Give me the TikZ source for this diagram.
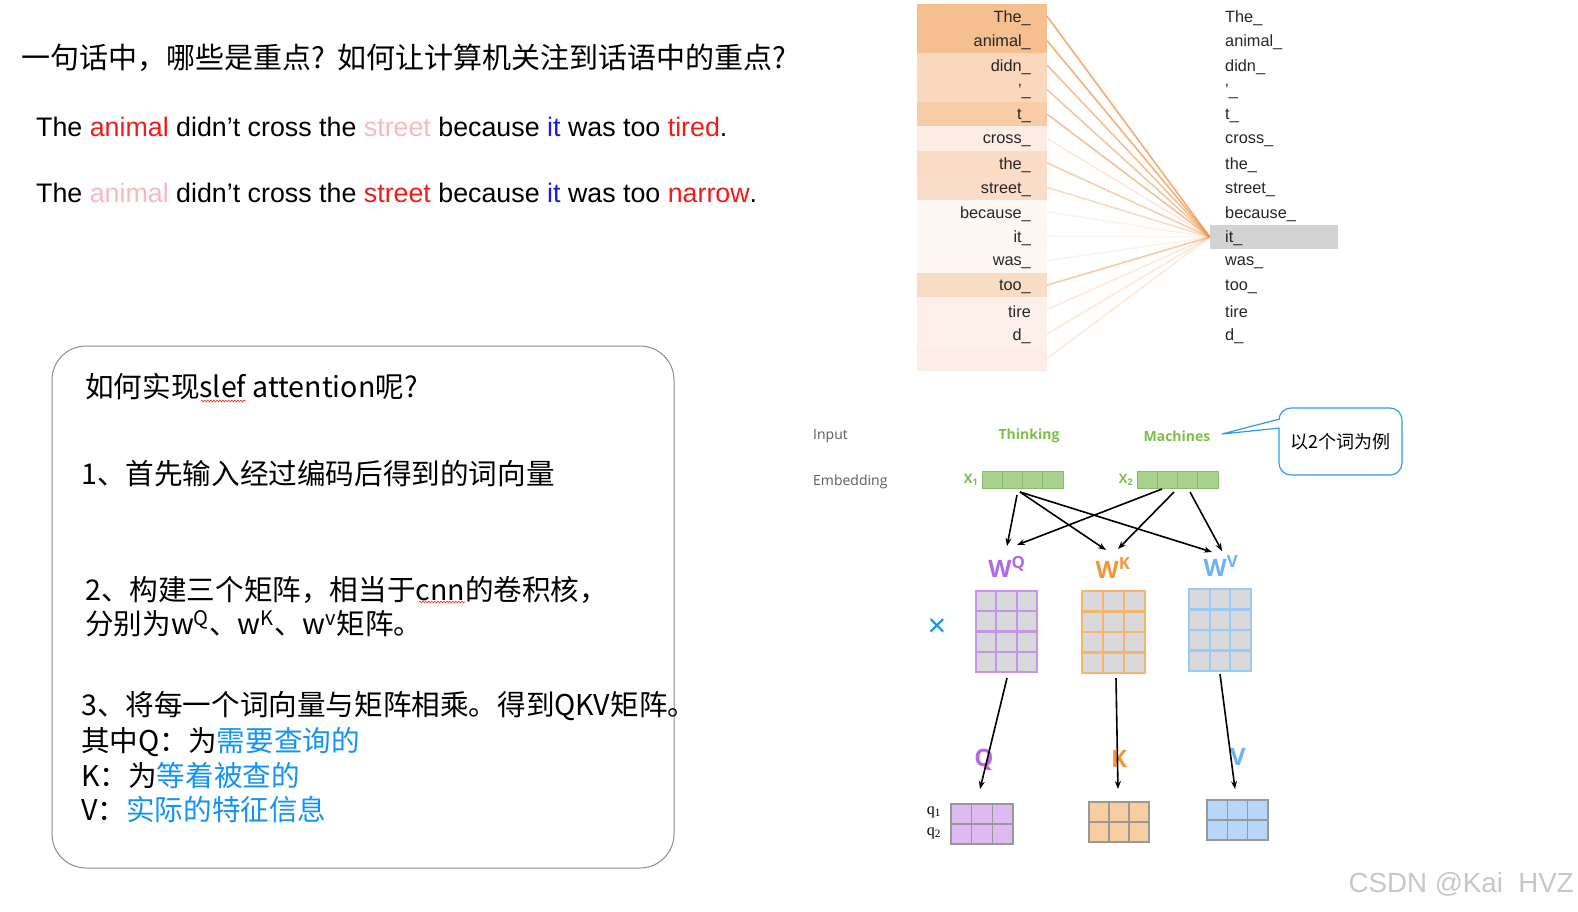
\documentclass[tikz,border=0pt]{standalone}
\usepackage{fontspec}
\setmainfont{Liberation Sans}
\newfontfamily\cjk{Noto Sans CJK SC}
\newfontfamily\osans{Open Sans}
\newfontfamily\serifq{Liberation Serif}
\usetikzlibrary{arrows.meta,decorations.pathmorphing}
\definecolor{redw}{HTML}{F01B1B}
\definecolor{pinkw}{HTML}{F7B9C0}
\definecolor{bluew}{HTML}{1A1AE0}
\definecolor{skyb}{HTML}{1493F5}
\definecolor{attn}{HTML}{F09850}
\definecolor{wgreen}{HTML}{7DBF4A}
\definecolor{cellg}{HTML}{A9D18E}
\definecolor{cellgb}{HTML}{8DB870}
\definecolor{purp}{HTML}{B26AE2}
\definecolor{orng}{HTML}{F2963A}
\definecolor{lblue}{HTML}{6DB2F4}
\definecolor{purpb}{HTML}{C595EA}
\definecolor{orngb}{HTML}{F5B56C}
\definecolor{lblueb}{HTML}{9CCAF6}
\definecolor{gcell}{HTML}{D9D9DB}
\definecolor{qfill}{HTML}{DDBBF0}
\definecolor{kfill}{HTML}{F6CE9F}
\definecolor{vfill}{HTML}{B8D6F7}
\definecolor{hlgray}{HTML}{D3D3D3}
\definecolor{labgray}{HTML}{5E5E5E}
\definecolor{callb}{HTML}{2E9BF0}

\newcommand\drawmat[9]{% name, x0, y0, x1, y1, cols, rows, fill, border
  \node[draw=#9, fill=#8, matframe, minimum width=#4-#2, minimum height=#5-#3] (#1) at ({(#2+#4)/2},{(#3+#5)/2}) {};
  \pgfmathtruncatemacro\ncm{#6-1}
  \pgfmathtruncatemacro\nrm{#7-1}
  \foreach \k in {1,...,\ncm} {\draw[draw=#9, matframe] ({#2+(#4-#2)*\k/#6},#3) -- ({#2+(#4-#2)*\k/#6},#5);}
  \foreach \k in {1,...,\nrm} {\draw[draw=#9, matframe] (#2,{#3+(#5-#3)*\k/#7}) -- (#4,{#3+(#5-#3)*\k/#7});}
}

\begin{document}
\begin{tikzpicture}[x=1pt,y=-1pt,
  cjktitle/.style={font=\cjk\fontsize{29}{34}\selectfont, anchor=west, inner sep=0pt},
  sent/.style={font=\fontsize{26.8}{31}\selectfont, anchor=west, inner sep=0pt},
  attword/.style={font=\fontsize{16.3}{19}\selectfont, text=black!85, inner sep=0pt},
  rowcell/.style={minimum width=130, minimum height=24.6, inner sep=0pt, outer sep=0pt},
  attline/.style={draw=attn, line width=1.6pt},
  boxtxt/.style={font=\cjk\fontsize{28.6}{33}\selectfont, anchor=west, inner sep=0pt},
  inlab/.style={font=\osans\fontsize{14}{17}\selectfont, text=labgray, anchor=west, inner sep=0pt},
  gword/.style={font=\osans\bfseries\fontsize{14}{17}\selectfont, text=wgreen, inner sep=0pt},
  embbox/.style={draw=cellgb, fill=cellg, line width=1pt, minimum width=81, minimum height=17, inner sep=0pt},
  embline/.style={draw=cellgb, line width=1pt},
  matframe/.style={line width=2.2pt, inner sep=0pt, outer sep=0pt},
  wlab/.style={font=\osans\bfseries\fontsize{24}{28}\selectfont, inner sep=0pt},
  arr/.style={-{Stealth[length=8pt,width=6pt]}, line width=1.6pt, black},
  wavy/.style={draw=red!85, line width=0.6pt, decorate, decoration={snake, amplitude=0.9pt, segment length=3pt}}
]
\useasboundingbox (0,0) rectangle (1578,911);
\fill[white] (0,0) rectangle (1578,911);

% ---------- title and sentences ----------
\node[cjktitle] (title) at (21,57.5) {一句话中，哪些是重点?\hspace{0.42em}如何让计算机关注到话语中的重点?};
\node[sent] (s1) at (36,127) {The \textcolor{redw}{animal} didn’t cross the \textcolor{pinkw}{street} because \textcolor{bluew}{it} was too \textcolor{redw}{tired}.};
\node[sent] (s2) at (36,193) {The \textcolor{pinkw}{animal} didn’t cross the \textcolor{redw}{street} because \textcolor{bluew}{it} was too \textcolor{redw}{narrow}.};

% ---------- attention panel ----------
\node[fill=hlgray, minimum width=128, minimum height=24, inner sep=0pt] (hl) at (1274,237) {};
\foreach \i/\wrd/\cc/\op in {0/The\_/F5BF90/0.8, 1/animal\_/F5BF90/0.75, 2/didn\_/F9D8BE/0.6, 3/'\_/F9D8BE/0.55, 4/t\_/F7CCA6/0.6, 5/cross\_/FCEDE4/0.2, 6/the\_/FADBC4/0.45, 7/street\_/FADDC9/0.35, 8/because\_/FEF8F5/0.12, 9/it\_/FEF6F2/0.1, 10/was\_/FEF8F5/0.12, 11/too\_/F9DCC4/0.5, 12/tire/FDF0EA/0.2, 13/d\_/FDF0EA/0.2, 14/{}/FCEEE6/0.2} {
  \pgfmathsetmacro\yy{16.2+24.45*\i}
  \definecolor{rowc}{HTML}{\cc}
  \node[rowcell, fill=rowc] (L\i) at (982,\yy) {};
  \node[attword, anchor=east] (LW\i) at (1031,\yy+2) {\wrd};
  \draw[attline, draw opacity=\op] (L\i.east) -- (hl.west);
}
\foreach \i/\wrd in {0/The\_, 1/animal\_, 2/didn\_, 3/'\_, 4/t\_, 5/cross\_, 6/the\_, 7/street\_, 8/because\_, 9/it\_, 10/was\_, 11/too\_, 12/tire, 13/d\_} {
  \pgfmathsetmacro\yy{16.2+24.45*\i}
  \node[attword, anchor=west] (RW\i) at (1225,\yy+2) {\wrd};
}

% ---------- rounded box ----------
\node[draw=black!45, line width=1pt, rounded corners=34pt, minimum width=622, minimum height=522, inner sep=0pt] (box) at (363,607) {};
\node[boxtxt] (b0) at (85,387) {如何实现slef attention呢?};
\node[boxtxt] (b1) at (81,474) {1、首先输入经过编码后得到的词向量};
\node[boxtxt] (b2) at (85,590) {2、构建三个矩阵，相当于cnn的卷积核，};
\node[boxtxt] (b3) at (85,624) {分别为w\textsuperscript{Q}、w\textsuperscript{K}、w\textsuperscript{v}矩阵。};
\node[boxtxt] (b4) at (81,706) {3、将每一个词向量与矩阵相乘。得到QKV矩阵。};
\node[boxtxt] (b5) at (81,742) {其中Q：为\textcolor{skyb}{需要查询的}};
\node[boxtxt] (b6) at (81,776) {K：为\textcolor{skyb}{等着被查的}};
\node[boxtxt] (b7) at (81,810) {V：\textcolor{skyb}{实际的特征信息}};
\coordinate (u1a) at (201,401); \coordinate (u1b) at (246,401);
\coordinate (u2a) at (419,602); \coordinate (u2b) at (465,602);
\draw[wavy] (u1a) -- (u1b);
\draw[wavy] (u2a) -- (u2b);

% ---------- input / embedding ----------
\node[inlab] (inp) at (813,436) {Input};
\node[inlab] (emb) at (813,482) {Embedding};
\node[gword] (think) at (1029,436) {Thinking};
\node[gword] (mach) at (1177,436) {Machines};
\node[gword, font=\osans\bfseries\fontsize{13}{15}\selectfont] (x1l) at (971,480) {X\textsubscript{1}};
\node[gword, font=\osans\bfseries\fontsize{13}{15}\selectfont] (x2l) at (1126,480) {X\textsubscript{2}};
\node[embbox] (x1) at (1022.5,479.5) {};
\node[embbox] (x2) at (1177.5,479.5) {};
\foreach \k in {1,2,3} {
  \draw[embline] ({982+20.25*\k},471) -- ({982+20.25*\k},488);
  \draw[embline] ({1137+20.25*\k},471) -- ({1137+20.25*\k},488);
}

% ---------- callout ----------
\node[draw=callb, line width=1.2pt, fill=white, rounded corners=12pt, minimum width=123, minimum height=67, inner sep=0pt, font=\cjk\fontsize{18}{21}\selectfont] (call) at (1340.5,441.5) {以2个词为例};
\coordinate (ptip) at (1222,434);
\coordinate (cp1) at (1279.6,419);
\coordinate (cp2) at (1279.6,428);
\fill[white] ([xshift=1.2pt]cp1) -- (ptip) -- ([xshift=1.2pt]cp2) -- cycle;
\draw[draw=callb, line width=1.2pt] (cp1) -- (ptip) -- (cp2);

% ---------- weight matrices ----------
\node[wlab, text=purp] (wql) at (1007,567) {W\textsuperscript{Q}};
\node[wlab, text=orng] (wkl) at (1113,568) {W\textsuperscript{K}};
\node[wlab, text=lblue] (wvl) at (1221,566) {W\textsuperscript{V}};
\node[text=skyb, font=\fontsize{32}{34}\selectfont, inner sep=0pt] (times) at (937,628) {×};
\drawmat{wq}{976}{591}{1037}{672}{3}{4}{gcell}{purpb}
\drawmat{wk}{1082}{591}{1145}{673}{3}{4}{gcell}{orngb}
\drawmat{wv}{1189}{589}{1251}{671}{3}{4}{gcell}{lblueb}

% arrows from embeddings to weight matrices
\coordinate (s11) at (1017,495); \coordinate (s12) at (1020,492);
\coordinate (s21) at (1162,489); \coordinate (s22) at (1174,492); \coordinate (s23) at (1190,492);
\coordinate (eq1) at (1007,546); \coordinate (eq2) at (1017,545);
\coordinate (ek1) at (1106,550); \coordinate (ek2) at (1118,549);
\coordinate (ev1) at (1212,552); \coordinate (ev2) at (1222,551);
\draw[arr] (s11) -- (eq1);
\draw[arr] (s12) -- (ek1);
\draw[arr] (s12) -- (ev1);
\draw[arr] (s21) -- (eq2);
\draw[arr] (s22) -- (ek2);
\draw[arr] (s23) -- (ev2);

% ---------- outputs ----------
\node[wlab, text=purp] (ql) at (984,760) {Q};
\node[wlab, text=orng] (kl) at (1119,759) {K};
\node[wlab, text=lblue] (vl) at (1238,757) {V};
\coordinate (oq) at (1007,678); \coordinate (ok) at (1116,678); \coordinate (ov) at (1220,674);
\coordinate (tq) at (980,789); \coordinate (tk) at (1118,789); \coordinate (tv) at (1235,789);
\draw[arr] (oq) -- (tq);
\draw[arr] (ok) -- (tk);
\draw[arr] (ov) -- (tv);
\begin{scope}[matframe/.style={line width=1.4pt, inner sep=0pt, outer sep=0pt}]
\drawmat{qm}{951}{804}{1013}{844}{3}{2}{qfill}{black!40}
\drawmat{km}{1089}{802}{1149}{842}{3}{2}{kfill}{black!40}
\drawmat{vm}{1207}{800}{1268}{840}{3}{2}{vfill}{black!40}
\end{scope}
\node[font=\serifq\fontsize{16}{18}\selectfont, inner sep=0pt] (q1) at (934,812) {q\textsubscript{1}};
\node[font=\serifq\fontsize{16}{18}\selectfont, inner sep=0pt] (q2) at (934,833) {q\textsubscript{2}};

% ---------- watermark ----------
\node[anchor=east, text=black!22, font=\fontsize{27.7}{31}\selectfont, inner sep=0pt] (wm) at (1574,884) {CSDN @Kai\ \ HVZ};
\end{tikzpicture}
\end{document}
